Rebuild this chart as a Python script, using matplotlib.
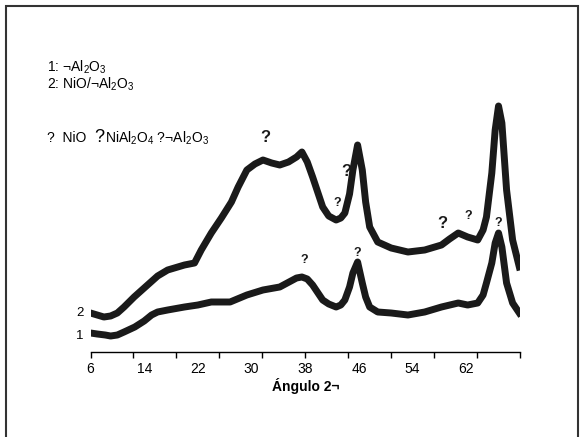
import matplotlib
matplotlib.use('Agg')
import matplotlib.pyplot as plt
from matplotlib.patches import Rectangle
import numpy as np

plt.rcParams['font.family'] = ['Liberation Sans', 'DejaVu Sans']
plt.rcParams['mathtext.fontset'] = 'custom'
plt.rcParams['mathtext.rm'] = 'Liberation Sans'
plt.rcParams['mathtext.it'] = 'Liberation Sans'
plt.rcParams['mathtext.bf'] = 'Liberation Sans:bold'

# --- data (2 theta, relative intensity) ---
angle_2 = [6, 7, 8, 9, 10, 11, 12.5, 14, 15, 16, 17.5, 19, 20, 21.5, 22.5, 24, 25.5,
           27, 28, 29.3, 30.5, 31.7, 33, 34.2, 35.5, 36.7, 37.5, 38.3, 39.1, 40.6,
           41.5, 42.6, 43.3, 43.9, 44.6, 45.1, 45.8, 46.5, 47.0, 47.6, 48.8, 50.8,
           53.3, 55.8, 58.3, 59.5, 60.8, 62.2, 63.7, 64.5, 65, 65.8, 66.3, 66.8,
           67.3, 68, 68.9, 69.9]
sample_2 = [39, 37, 35, 36, 39, 45, 55, 64, 70, 76, 82, 85, 87, 89, 102, 119, 134,
            150, 165, 182, 188, 192, 189, 187, 190, 195, 200, 190, 175, 145,
            136, 132, 134, 139, 158, 182, 207, 182, 150, 125, 110, 104,
            100, 102, 107, 113, 119, 115, 112, 122, 135, 179, 222, 246,
            229, 162, 112, 85]

angle_1 = [6, 7, 8.2, 9, 10, 11, 12.6, 14, 15.1, 16, 17.5, 20, 22, 24, 26.8, 29.3,
           31.7, 34.2, 36.7, 37.5, 38.3, 39.1, 40.6, 41.5, 42.6, 43.3, 43.9, 44.6,
           45.1, 45.8, 46.5, 47.0, 47.6, 48.8, 50.8, 53.3, 55.8, 58.3, 60.8, 62.2,
           63.7, 64.5, 65, 65.8, 66.3, 66.8, 67.3, 68, 68.9, 69.9]
sample_1 = [19, 18, 17, 16, 17, 20, 25, 31, 37, 40, 42, 45, 47, 50, 50, 57,
            62, 65, 74, 75, 73, 67, 52, 48, 45, 47, 52, 65,
            79, 90, 69, 55, 45, 40, 39, 37, 40, 45, 49, 47,
            49, 57, 69, 89, 109, 119, 105, 69, 49, 39]

# peak markers: (angle, height, fontsize)
marks_x = [32.1, 44.2, 42.7, 58.5, 62.3, 66.8, 37.9, 45.8]
marks_y = [214, 181, 149, 129, 136, 129, 92, 99]
marks_fs = [12, 12, 9, 12, 9, 9, 9, 9]

tick_labels = [6, 14, 22, 30, 38, 46, 54, 62]

fig = plt.figure(figsize=(5.84, 4.37), dpi=100)
ax = fig.add_axes([90.5 / 584, 1 - 352 / 437, 429.5 / 584, 292 / 437])

ax.plot(angle_2, sample_2, color='#1a1a1a', linewidth=5, solid_joinstyle='round')
ax.plot(angle_1, sample_1, color='#1a1a1a', linewidth=5, solid_joinstyle='round')

for mx, my, fs in zip(marks_x, marks_y, marks_fs):
    ax.text(mx, my, '?', fontsize=fs, fontweight='bold', ha='center', va='center',
            color='#1a1a1a')

ax.set_xlim(6, 70)
ax.set_ylim(0, 292)
for s in ['top', 'right', 'left']:
    ax.spines[s].set_visible(False)
ax.spines['bottom'].set_linewidth(1.0)
ax.set_yticks([])

# Excel style: tick marks evenly spaced, labels at real angles
ax.xaxis.remove_overlapping_locs = False
ax.set_xticks(np.linspace(6, 70, 11))
ax.set_xticklabels([])
ax.tick_params(axis='x', which='major', direction='out', length=4, width=1)
ax.set_xticks(tick_labels, minor=True)
ax.set_xticklabels([str(t) for t in tick_labels], minor=True)
ax.tick_params(axis='x', which='minor', length=0, pad=7, labelsize=10)
ax.set_xlabel('Ángulo 2¬', fontsize=10, fontweight='bold', labelpad=2)

# curve numbers
fig.text(80 / 584, 1 - 313 / 437, '2', fontsize=9.5, ha='center', va='center')
fig.text(80 / 584, 1 - 336 / 437, '1', fontsize=9.5, ha='center', va='center')

# legend text
fig.text(47 / 584, 1 - 67 / 437, '1: ¬Al$_2$O$_3$', fontsize=10, va='center')
fig.text(47 / 584, 1 - 84 / 437, '2: NiO/¬Al$_2$O$_3$', fontsize=10, va='center')
fig.text(47 / 584, 1 - 138 / 437, '?  NiO', fontsize=10, va='center')
fig.text(94 / 584, 1 - 137 / 437, '?', fontsize=13, va='center')
fig.text(105 / 584, 1 - 138 / 437, 'NiAl$_2$O$_4$ ?¬Al$_2$O$_3$', fontsize=10, va='center')

# outer frame
fig.patches.append(Rectangle((6 / 584, -0.05), 572 / 584, 1.05 - 6 / 437,
                             transform=fig.transFigure, fill=False,
                             edgecolor='#333333', linewidth=1.5))

fig.savefig('out.png', dpi=100)
